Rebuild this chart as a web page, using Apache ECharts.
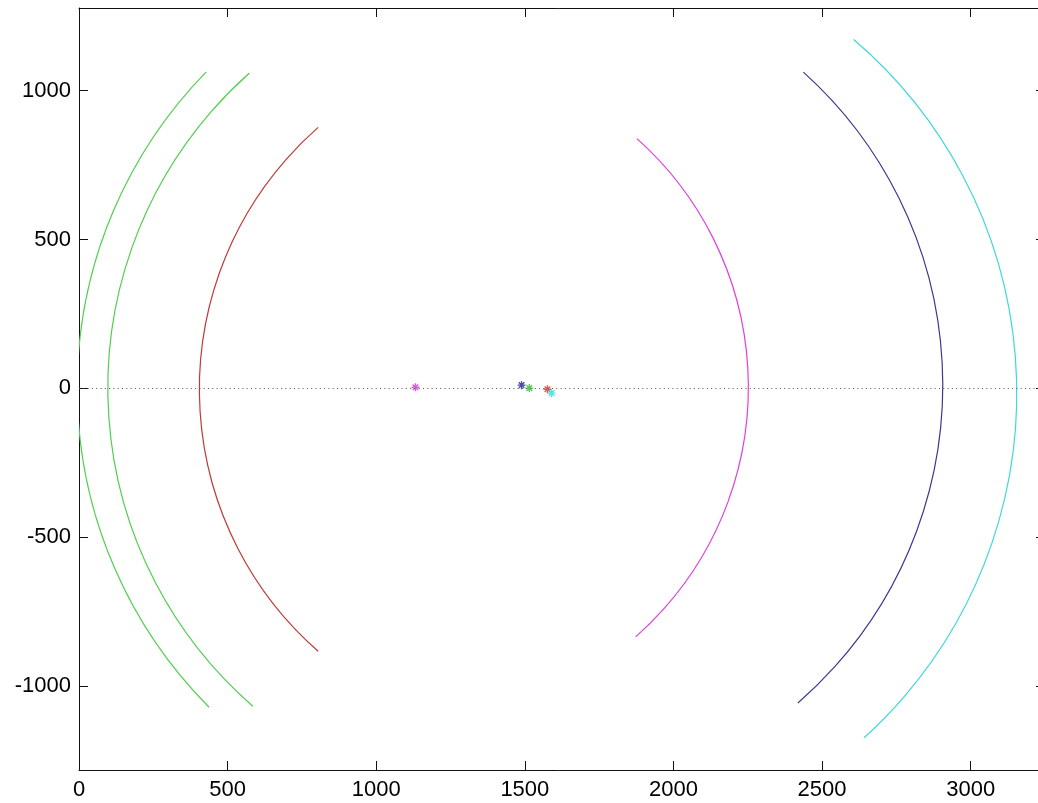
<!DOCTYPE html>
<html>
<head>
<meta charset="utf-8">
<script src="https://cdn.jsdelivr.net/npm/echarts@6/dist/echarts.min.js"></script>
<style>
  html, body { margin: 0; padding: 0; background: #fff; }
  #chart { width: 1038px; height: 803px; }
</style>
</head>
<body>
<div id="chart"></div>
<script>
// Tick positions
const xTicks = [0, 500, 1000, 1500, 2000, 2500, 3000];
const yTicks = [-1000, -500, 0, 500, 1000];

// Source points (asterisk markers)
const pointX = [1132, 1489, 1515, 1576, 1590];
const pointY = [4, 11, 1, -3, -16];

// Wavefront arcs: centre, radius and angular extent in degrees (counter-clockwise from +x)
const arcCx = [1515, 1515, 1576, 1132, 1489, 1590];
const arcCy = [1, 1, -3, 4, 11, -16];
const arcR = [1521, 1418, 1171, 1120, 1417, 1565];
const arcFrom = [135.6, 131.6, 131.2, -48.6, -49.0, -47.8];
const arcTo = [224.9, 229.0, 228.8, 48.3, 48.0, 49.5];

// Styling
const arcColors = ['#4fcf4f', '#4fcf4f', '#c23a3a', '#e040e0', '#3a3a94', '#3fd8d8'];
const pointColors = ['#e030e0', '#20208c', '#30c030', '#e03030', '#20e0e0'];

const FONT = 'Liberation Sans, Arial, sans-serif';
const XMIN = 0, XMAX = 3250, YMIN = -1282, YMAX = 1278;

const asterisk = 'path://M5,0L5,10M0,5L10,5M1.5,1.5L8.5,8.5M1.5,8.5L8.5,1.5';

const arcData = arcCx.map((cx, i) => [cx, arcCy[i], arcR[i], arcFrom[i], arcTo[i]]);
const pointData = pointX.map((x, i) => ({
  value: [x, pointY[i]],
  itemStyle: { color: pointColors[i], borderColor: pointColors[i], borderWidth: 1.4 }
}));

const plain = v => String(v);

function axisBase(extra) {
  return Object.assign({
    type: 'value',
    splitLine: { show: false },
    axisLine: { show: true, onZero: false, lineStyle: { color: '#111', width: 1 } }
  }, extra);
}

const chart = echarts.init(document.getElementById('chart'), null, { renderer: 'canvas' });
chart.setOption({
  animation: false,
  backgroundColor: '#ffffff',
  // the plot box runs a few pixels past the right edge of the canvas
  grid: { left: 79, top: 8, width: 966, height: 762, containLabel: false, outerBoundsMode: 'none' },
  xAxis: [
    axisBase({
      position: 'bottom', min: XMIN, max: XMAX,
      axisTick: { show: true, inside: true, length: 9, customValues: xTicks, lineStyle: { color: '#111' } },
      axisLabel: { show: true, customValues: xTicks, formatter: plain, fontSize: 22, fontFamily: FONT, color: '#000', margin: 9 }
    }),
    axisBase({
      position: 'top', min: XMIN, max: XMAX,
      axisTick: { show: true, inside: true, length: 9, customValues: xTicks, lineStyle: { color: '#111' } },
      axisLabel: { show: false }
    })
  ],
  yAxis: [
    axisBase({
      position: 'left', min: YMIN, max: YMAX,
      axisTick: { show: true, inside: true, length: 9, customValues: yTicks, lineStyle: { color: '#111' } },
      axisLabel: { show: true, customValues: yTicks, formatter: plain, fontSize: 22, fontFamily: FONT, color: '#000', margin: 8 }
    }),
    axisBase({
      position: 'right', min: YMIN, max: YMAX,
      axisTick: { show: true, inside: true, length: 9, customValues: yTicks, lineStyle: { color: '#111' } },
      axisLabel: { show: false }
    })
  ],
  series: [
    {
      type: 'custom',
      xAxisIndex: 0,
      yAxisIndex: 0,
      clip: true,
      silent: true,
      data: arcData,
      renderItem: function (params, api) {
        const c = api.coord([api.value(0), api.value(1)]);
        const r = api.size([api.value(2), 0])[0];
        const a0 = api.value(3) * Math.PI / 180;
        const a1 = api.value(4) * Math.PI / 180;
        return {
          type: 'arc',
          shape: { cx: c[0], cy: c[1], r: r, startAngle: -a1, endAngle: -a0, clockwise: true },
          style: { stroke: arcColors[params.dataIndex], fill: 'none', lineWidth: 1.2 }
        };
      }
    },
    {
      type: 'scatter',
      xAxisIndex: 0,
      yAxisIndex: 0,
      symbol: asterisk,
      symbolSize: 8,
      data: pointData,
      markLine: {
        silent: true,
        symbol: 'none',
        label: { show: false },
        lineStyle: { type: [1, 3.3], color: '#555', width: 1 },
        data: [{ yAxis: 0 }]
      },
      z: 3
    }
  ]
});
</script>
</body>
</html>
